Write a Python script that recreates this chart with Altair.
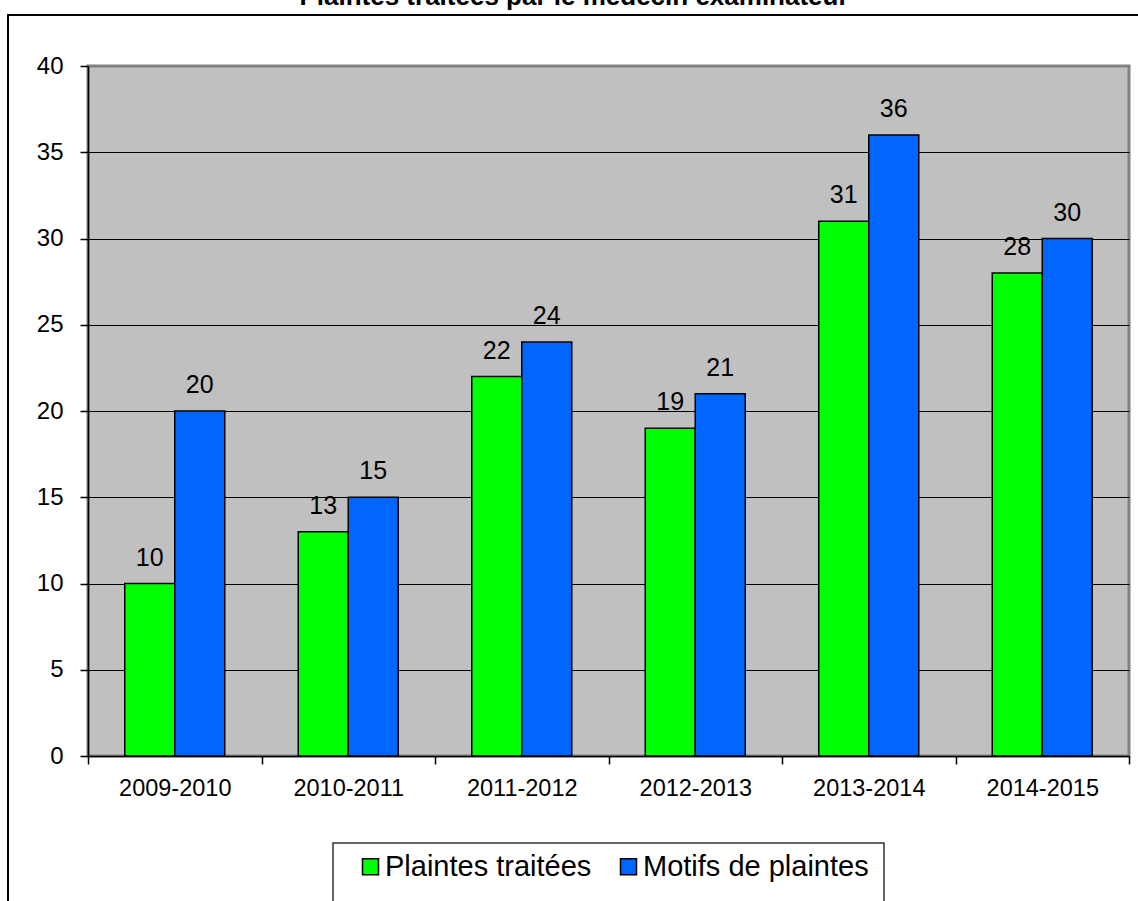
import altair as alt
import pandas as pd

periods = ["2009-2010", "2010-2011", "2011-2012", "2012-2013", "2013-2014", "2014-2015"]
series = ["Plaintes traitées", "Motifs de plaintes"]
plaintes_traitees = [10, 13, 22, 19, 31, 28]
motifs_de_plaintes = [20, 15, 24, 21, 36, 30]
colors = ["#00FF00", "#0066FF"]
title_text = "Plaintes traitées par le médecin examinateur"
y_ticks = [0, 5, 10, 15, 20, 25, 30, 35, 40]

rows = []
for p, a, b in zip(periods, plaintes_traitees, motifs_de_plaintes):
    rows.append({"period": p, "series": series[0], "value": a})
    rows.append({"period": p, "series": series[1], "value": b})
df = pd.DataFrame(rows)

FONT = "Liberation Sans, Arial"
W, H = 1041, 690

x = alt.X(
    "period:N", sort=periods, title=None,
    scale=alt.Scale(paddingInner=0, paddingOuter=0),
    axis=alt.Axis(labelAngle=0, labelFont=FONT, labelFontSize=23.5, labelColor="black",
                  labelPadding=12, tickBand="extent", tickSize=8, tickColor="black",
                  tickWidth=1.5, domainColor="black", domainWidth=1.5, grid=False),
)
xo = alt.XOffset("series:N", sort=series,
                 scale=alt.Scale(paddingOuter=0.735, paddingInner=0))
y = alt.Y(
    "value:Q", title=None,
    scale=alt.Scale(domain=[0, 40], nice=False),
    axis=alt.Axis(values=y_ticks, labelFont=FONT, labelFontSize=24, labelColor="black",
                  labelPadding=17, tickSize=8, tickColor="black", tickWidth=1.5,
                  domainColor="black", domainWidth=1.5,
                  gridColor=alt.condition("datum.value === 40", alt.value("#808080"), alt.value("black")),
                  gridWidth=1),
)
color = alt.Color(
    "series:N", sort=series,
    scale=alt.Scale(domain=series, range=colors),
    legend=alt.Legend(title=None, orient="none", legendX=268, legendY=786,
                      direction="horizontal", columns=2, symbolType="square",
                      symbolSize=256, symbolStrokeColor="black", symbolStrokeWidth=1.5,
                      labelFont=FONT, labelFontSize=29, labelColor="black",
                      labelOffset=0, columnPadding=22, padding=0, labelLimit=400),
)

base = alt.Chart(df)

bars = base.mark_bar(stroke="black", strokeWidth=1.5).encode(
    x=x, xOffset=xo, y=y, color=color
)
labels = base.mark_text(font=FONT, fontSize=25, dy=-18, baseline="alphabetic",
                        color="black").encode(
    x=x, xOffset=xo, y=y, text="value:Q"
)

one = alt.Data(values=[{"k": 1}])
frame = alt.Chart(one).mark_rect(fill=None, stroke="black", strokeWidth=2).encode(
    x=alt.value(-80), y=alt.value(-51), x2=alt.value(W + 40), y2=alt.value(H + 300)
)
legend_box = alt.Chart(one).mark_rect(fill="white", stroke="#333333", strokeWidth=1.5).encode(
    x=alt.value(245), y=alt.value(777), x2=alt.value(796), y2=alt.value(851)
)
title = alt.Chart(alt.Data(values=[{"t": title_text}])).mark_text(
    font=FONT, fontSize=26, fontWeight="bold", baseline="alphabetic", align="center",
    color="black"
).encode(x=alt.value(486), y=alt.value(-61), text="t:N")

chart = alt.layer(frame, bars, labels, legend_box, title).properties(
    width=W, height=H,
    autosize=alt.AutoSizeParams(type="none"),
    padding={"left": 88, "top": 66, "right": 9, "bottom": 145},
    background="white",
).configure_view(
    fill="#C0C0C0", stroke="#808080", strokeWidth=3
)

chart.save("out.html", embed_options={"renderer": "svg", "actions": False})
